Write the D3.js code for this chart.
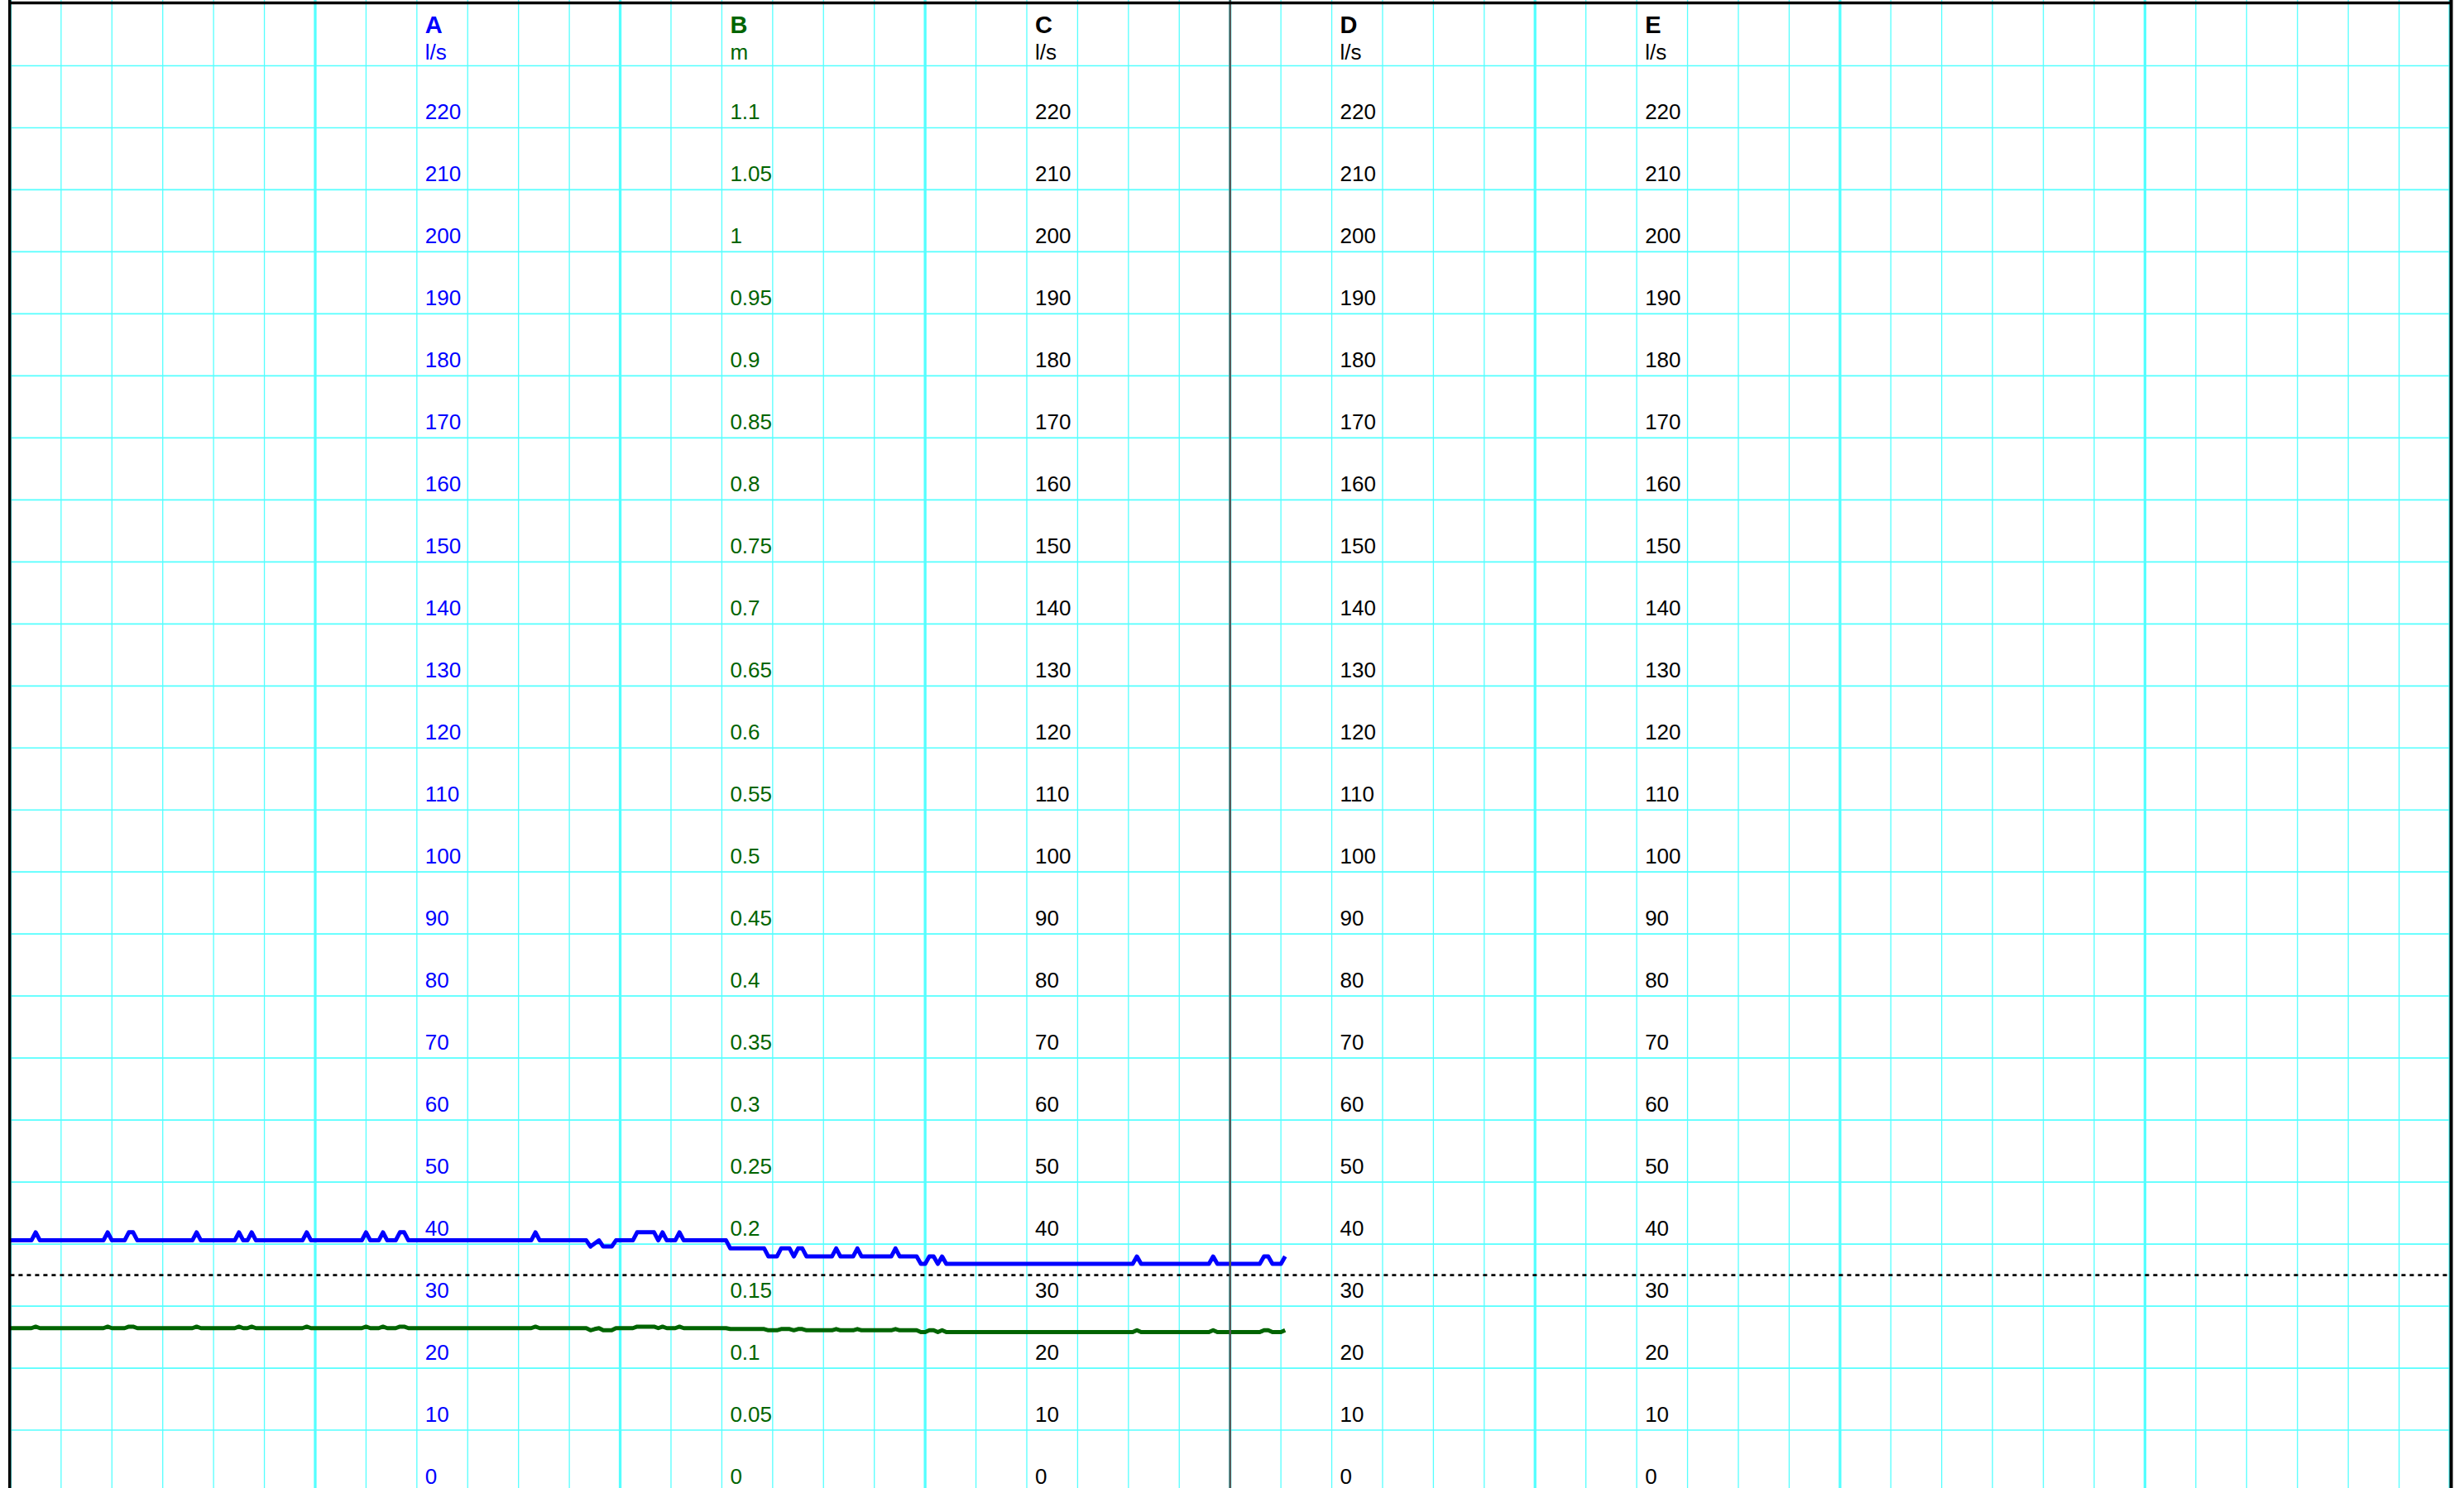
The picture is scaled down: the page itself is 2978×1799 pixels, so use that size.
<!DOCTYPE html>
<html>
<head>
<meta charset="utf-8">
<script src="https://cdn.jsdelivr.net/npm/d3@7"></script>
<style>
  body { margin: 0; background: #fff; }
  svg { display: block; }
</style>
</head>
<body>
<script>
// axis columns
var axisNames = ['A', 'B', 'C', 'D', 'E']
var axisUnits = ['l/s', 'm', 'l/s', 'l/s', 'l/s']
var axisHours = [8, 14, 20, 26, 32]
var axisColors = ['#0000ff', '#006400', '#000000', '#000000', '#000000']

var flowTicks = [0, 10, 20, 30, 40, 50, 60, 70, 80, 90, 100, 110, 120, 130, 140, 150, 160, 170, 180, 190, 200, 210, 220]
var levelTicks = [0, 0.05, 0.1, 0.15, 0.2, 0.25, 0.3, 0.35, 0.4, 0.45, 0.5, 0.55, 0.6, 0.65, 0.7, 0.75, 0.8, 0.85, 0.9, 0.95, 1, 1.05, 1.1]

var threshold = 35      // l/s, dotted line
var nowHour = 24
var stepMinutes = 5

// A: flow (l/s), one value every 5 minutes, one row per hour
var flowA = [
  40.6,40.6,40.6,40.6,40.6,40.6,41.9,40.6,40.6,40.6,40.6,40.6,
  40.6,40.6,40.6,40.6,40.6,40.6,40.6,40.6,40.6,40.6,40.6,41.9,
  40.6,40.6,40.6,40.6,41.9,41.9,40.6,40.6,40.6,40.6,40.6,40.6,
  40.6,40.6,40.6,40.6,40.6,40.6,40.6,40.6,41.9,40.6,40.6,40.6,
  40.6,40.6,40.6,40.6,40.6,40.6,41.9,40.6,40.6,41.9,40.6,40.6,
  40.6,40.6,40.6,40.6,40.6,40.6,40.6,40.6,40.6,40.6,41.9,40.6,
  40.6,40.6,40.6,40.6,40.6,40.6,40.6,40.6,40.6,40.6,40.6,40.6,
  41.9,40.6,40.6,40.6,41.9,40.6,40.6,40.6,41.9,41.9,40.6,40.6,
  40.6,40.6,40.6,40.6,40.6,40.6,40.6,40.6,40.6,40.6,40.6,40.6,
  40.6,40.6,40.6,40.6,40.6,40.6,40.6,40.6,40.6,40.6,40.6,40.6,
  40.6,40.6,40.6,40.6,41.9,40.6,40.6,40.6,40.6,40.6,40.6,40.6,
  40.6,40.6,40.6,40.6,40.6,39.6,40.1,40.6,39.6,39.6,39.6,40.6,
  40.6,40.6,40.6,40.6,41.9,41.9,41.9,41.9,41.9,40.6,41.9,40.6,
  40.6,40.6,41.9,40.6,40.6,40.6,40.6,40.6,40.6,40.6,40.6,40.6,
  40.6,40.6,39.3,39.3,39.3,39.3,39.3,39.3,39.3,39.3,39.3,38.0,
  38.0,38.0,39.3,39.3,39.3,38.0,39.3,39.3,38.0,38.0,38.0,38.0,
  38.0,38.0,38.0,39.3,38.0,38.0,38.0,38.0,39.3,38.0,38.0,38.0,
  38.0,38.0,38.0,38.0,38.0,39.3,38.0,38.0,38.0,38.0,38.0,36.8,
  36.8,38.0,38.0,36.8,38.0,36.8,36.8,36.8,36.8,36.8,36.8,36.8,
  36.8,36.8,36.8,36.8,36.8,36.8,36.8,36.8,36.8,36.8,36.8,36.8,
  36.8,36.8,36.8,36.8,36.8,36.8,36.8,36.8,36.8,36.8,36.8,36.8,
  36.8,36.8,36.8,36.8,36.8,36.8,36.8,36.8,36.8,36.8,36.8,36.8,
  36.8,36.8,38.0,36.8,36.8,36.8,36.8,36.8,36.8,36.8,36.8,36.8,
  36.8,36.8,36.8,36.8,36.8,36.8,36.8,36.8,38.0,36.8,36.8,36.8,
  36.8,36.8,36.8,36.8,36.8,36.8,36.8,36.8,38.0,38.0,36.8,36.8,
  36.8,38.0
]

// B: level (m), same timestamps
var levelB = [
  .1322,.1322,.1322,.1322,.1322,.1322,.1334,.1322,.1322,.1322,.1322,.1322,
  .1322,.1322,.1322,.1322,.1322,.1322,.1322,.1322,.1322,.1322,.1322,.1334,
  .1322,.1322,.1322,.1322,.1334,.1334,.1322,.1322,.1322,.1322,.1322,.1322,
  .1322,.1322,.1322,.1322,.1322,.1322,.1322,.1322,.1334,.1322,.1322,.1322,
  .1322,.1322,.1322,.1322,.1322,.1322,.1334,.1322,.1322,.1334,.1322,.1322,
  .1322,.1322,.1322,.1322,.1322,.1322,.1322,.1322,.1322,.1322,.1334,.1322,
  .1322,.1322,.1322,.1322,.1322,.1322,.1322,.1322,.1322,.1322,.1322,.1322,
  .1334,.1322,.1322,.1322,.1334,.1322,.1322,.1322,.1334,.1334,.1322,.1322,
  .1322,.1322,.1322,.1322,.1322,.1322,.1322,.1322,.1322,.1322,.1322,.1322,
  .1322,.1322,.1322,.1322,.1322,.1322,.1322,.1322,.1322,.1322,.1322,.1322,
  .1322,.1322,.1322,.1322,.1334,.1322,.1322,.1322,.1322,.1322,.1322,.1322,
  .1322,.1322,.1322,.1322,.1322,.1305,.1315,.1322,.1305,.1305,.1305,.1322,
  .1322,.1322,.1322,.1322,.1334,.1334,.1334,.1334,.1334,.1322,.1334,.1322,
  .1322,.1322,.1334,.1322,.1322,.1322,.1322,.1322,.1322,.1322,.1322,.1322,
  .1322,.1322,.1315,.1315,.1315,.1315,.1315,.1315,.1315,.1315,.1315,.1305,
  .1305,.1305,.1315,.1315,.1315,.1305,.1315,.1315,.1305,.1305,.1305,.1305,
  .1305,.1305,.1305,.1315,.1305,.1305,.1305,.1305,.1315,.1305,.1305,.1305,
  .1305,.1305,.1305,.1305,.1305,.1315,.1305,.1305,.1305,.1305,.1305,.1290,
  .1290,.1305,.1305,.1290,.1305,.1290,.1290,.1290,.1290,.1290,.1290,.1290,
  .1290,.1290,.1290,.1290,.1290,.1290,.1290,.1290,.1290,.1290,.1290,.1290,
  .1290,.1290,.1290,.1290,.1290,.1290,.1290,.1290,.1290,.1290,.1290,.1290,
  .1290,.1290,.1290,.1290,.1290,.1290,.1290,.1290,.1290,.1290,.1290,.1290,
  .1290,.1290,.1305,.1290,.1290,.1290,.1290,.1290,.1290,.1290,.1290,.1290,
  .1290,.1290,.1290,.1290,.1290,.1290,.1290,.1290,.1305,.1290,.1290,.1290,
  .1290,.1290,.1290,.1290,.1290,.1290,.1290,.1290,.1305,.1305,.1290,.1290,
  .1290,.1305
]

var width = 2978
var height = 1799
var gridColor = '#55ffff'
var font = 'Arial, "Liberation Sans", sans-serif'

var x = d3.scaleLinear().domain([0, 48]).range([12.4, 2961])
var yA = d3.scaleLinear().domain([0, 230]).range([1804, 79.5])
var yB = d3.scaleLinear().domain([0, 1.15]).range([1804, 79.5])

var svg = d3.select('body')
  .append('svg')
  .attr('width', width)
  .attr('height', height)
  .style('background', '#fff')

// grid
var grid = svg.append('g')

grid.selectAll('.hline')
  .data(yA.ticks(23))
  .enter()
  .append('line')
  .attr('x1', x(0))
  .attr('x2', x(48))
  .attr('y1', function(d) { return yA(d) })
  .attr('y2', function(d) { return yA(d) })
  .style('stroke', gridColor)
  .style('stroke-width', 1.7)

grid.selectAll('.vline')
  .data(d3.range(0, 49))
  .enter()
  .append('line')
  .attr('x1', function(d) { return x(d) })
  .attr('x2', function(d) { return x(d) })
  .attr('y1', 0)
  .attr('y2', height)
  .style('stroke', gridColor)
  .style('stroke-width', function(d) { return d % 6 === 0 ? 3.3 : 1.3 })

// threshold
svg.append('line')
  .attr('x1', x(0))
  .attr('x2', x(48))
  .attr('y1', yA(threshold))
  .attr('y2', yA(threshold))
  .style('stroke', '#000')
  .style('stroke-width', 2.6)
  .style('stroke-dasharray', '5,5')

// axes
axisHours.forEach(function(h, i) {
  var isLevel = axisUnits[i] === 'm'
  var axis = d3.axisRight(isLevel ? yB : yA)
    .tickValues(isLevel ? levelTicks : flowTicks)
    .tickSize(0)
    .tickPadding(10)
    .tickFormat(d3.format('~g'))

  var g = svg.append('g')
    .attr('transform', 'translate(' + x(h) + ',0)')
    .call(axis)
    .attr('font-size', 26)
    .attr('font-family', font)

  g.select('.domain').remove()
  g.selectAll('text')
    .attr('dy', '-0.42em')
    .attr('fill', axisColors[i])

  svg.append('text')
    .attr('x', x(h) + 10)
    .attr('y', 40)
    .attr('font-family', font)
    .attr('font-size', 29)
    .attr('font-weight', 'bold')
    .attr('fill', axisColors[i])
    .text(axisNames[i])

  svg.append('text')
    .attr('x', x(h) + 10)
    .attr('y', 72)
    .attr('font-family', font)
    .attr('font-size', 26)
    .attr('fill', axisColors[i])
    .text(axisUnits[i])
})

// series
var t = function(i) { return i * stepMinutes / 60 }

var lineA = d3.line()
  .x(function(d, i) { return x(t(i)) })
  .y(function(d) { return yA(d) })

var lineB = d3.line()
  .x(function(d, i) { return x(t(i)) })
  .y(function(d) { return yB(d) })

svg.append('path')
  .datum(levelB)
  .attr('d', lineB)
  .style('fill', 'none')
  .style('stroke', '#006400')
  .style('stroke-width', 5)
  .style('stroke-linejoin', 'round')

svg.append('path')
  .datum(flowA)
  .attr('d', lineA)
  .style('fill', 'none')
  .style('stroke', '#0000ff')
  .style('stroke-width', 5)
  .style('stroke-linejoin', 'round')

// now line
svg.append('line')
  .attr('x1', x(nowHour))
  .attr('x2', x(nowHour))
  .attr('y1', 0)
  .attr('y2', height)
  .style('stroke', '#555')
  .style('stroke-width', 2.5)

// frame
svg.append('line')
  .attr('x1', 10).attr('x2', 2964)
  .attr('y1', 3.5).attr('y2', 3.5)
  .style('stroke', '#000').style('stroke-width', 3.5)
svg.append('line')
  .attr('x1', 11.7).attr('x2', 11.7)
  .attr('y1', 0).attr('y2', height)
  .style('stroke', '#000').style('stroke-width', 3.5)
svg.append('line')
  .attr('x1', 2962.5).attr('x2', 2962.5)
  .attr('y1', 0).attr('y2', height)
  .style('stroke', '#000').style('stroke-width', 4)
</script>
</body>
</html>
